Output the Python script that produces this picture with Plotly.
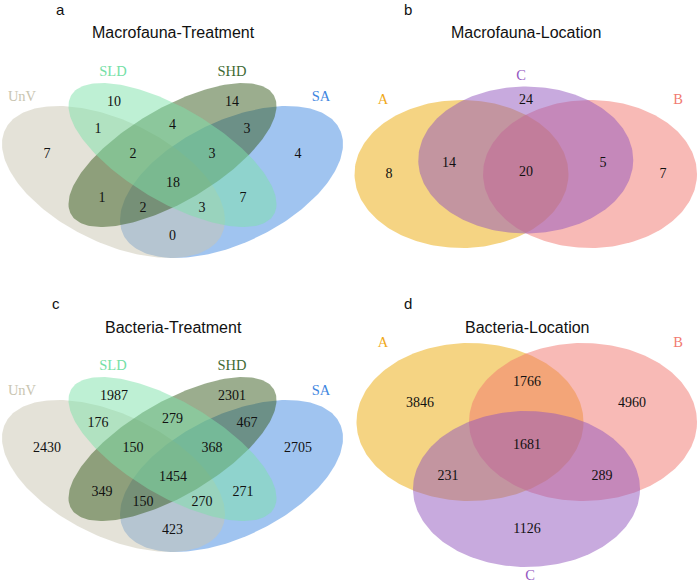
import numpy as np
import plotly.graph_objects as go

# ---------------- data ----------------
treatment_sets = ["UnV", "SLD", "SHD", "SA"]
location_sets = ["A", "B", "C"]

treatment_regions = ["UnV", "SLD", "SHD", "SA", "UnV&SLD", "SLD&SHD", "SHD&SA",
                     "UnV&SLD&SHD", "SLD&SHD&SA", "UnV&SLD&SHD&SA", "UnV&SHD",
                     "SLD&SA", "UnV&SHD&SA", "UnV&SLD&SA", "UnV&SA"]
macrofauna_treatment_counts = [7, 10, 14, 4, 1, 4, 3, 2, 3, 18, 1, 7, 2, 3, 0]
bacteria_treatment_counts = [2430, 1987, 2301, 2705, 176, 279, 467, 150, 368,
                             1454, 349, 271, 150, 270, 423]

macrofauna_location_regions = ["A", "C", "B", "A&C", "A&B&C", "B&C"]
macrofauna_location_counts = [8, 24, 7, 14, 20, 5]

bacteria_location_regions = ["A", "A&B", "B", "A&B&C", "A&C", "B&C", "C"]
bacteria_location_counts = [3846, 1766, 4960, 1681, 231, 289, 1126]

panel_titles = ["Macrofauna-Treatment", "Macrofauna-Location",
                "Bacteria-Treatment", "Bacteria-Location"]
panel_letters = ["a", "b", "c", "d"]

# ---------------- styles / layout geometry ----------------
set_colors = {
    "UnV": (201, 197, 177),
    "SLD": (125, 225, 169),
    "SHD": (55, 92, 30),
    "SA": (65, 137, 225),
    "A": (236, 169, 8),
    "B": (241, 117, 109),
    "C": (145, 85, 189),
}
label_colors = {
    "UnV": "#c9c5b1", "SLD": "#74e0a6", "SHD": "#3f6b34", "SA": "#3f86e0",
    "A": "#f0a91a", "B": "#f17a70", "C": "#9457c0",
}

# ellipse geometry (cx, cy, half-width, half-height, tilt k, mirrored)
quad_geom = {
    "UnV": (113.5, 182, 111.5, 76, 0.5, False),
    "SA": (231.5, 182, 111.5, 76, 0.5, True),
    "SLD": (172.5, 155, 104, 72, 0.68, False),
    "SHD": (172.5, 155, 104, 72, 0.68, True),
}
quad_order = ["SA", "UnV", "SHD", "SLD"]
quad_label_pos = {"UnV": (22, 97), "SLD": (113, 72), "SHD": (232, 72), "SA": (321, 97)}
quad_region_pos = {
    "UnV": (47, 154), "SLD": (114, 102), "SHD": (232, 102), "SA": (298, 154),
    "UnV&SLD": (98, 129), "SLD&SHD": (172.5, 125), "SHD&SA": (247, 129),
    "UnV&SLD&SHD": (133, 154), "SLD&SHD&SA": (212, 154), "UnV&SLD&SHD&SA": (173, 183),
    "UnV&SHD": (102, 198), "SLD&SA": (243, 198), "UnV&SHD&SA": (143, 208),
    "UnV&SLD&SA": (202, 208), "UnV&SA": (172.5, 236),
}

tri_b_geom = {
    "A": (461.5, 174, 107, 74, 0.0, False),
    "B": (590, 174, 107, 74, 0.0, False),
    "C": (525.75, 160, 107.5, 73.5, 0.0, False),
}
tri_b_label_pos = {"A": (383, 100), "B": (678, 100), "C": (521, 76)}
tri_b_region_pos = {"A": (389, 174), "C": (526, 100), "B": (663, 174),
                    "A&C": (449, 163), "A&B&C": (526, 172), "B&C": (603, 163)}

tri_d_geom = {
    "A": (470, 422, 113.5, 79, 0.0, False),
    "B": (583, 422, 114, 79, 0.0, False),
    "C": (526.5, 489, 113.5, 78, 0.0, False),
}
tri_d_label_pos = {"A": (383, 343), "B": (678, 343), "C": (530, 576)}
tri_d_region_pos = {"A": (420, 403), "A&B": (527, 382), "B": (632, 403),
                    "A&B&C": (527, 445), "A&C": (448, 476), "B&C": (602, 476),
                    "C": (527, 529)}

title_pos = [(173, 32), (526, 32), (173, 327), (527, 327)]
letter_pos = [(60, 9), (408, 9), (56, 303), (408, 303)]
lower_shift = 294

SERIF = "Liberation Serif, Times New Roman, serif"
SANS = "Liberation Sans, Arial, Helvetica, sans-serif"

W, H = 700, 584

fig = go.Figure()


def ellipse_xy(cx, cy, hx, hy, k, mirror, dy=0):
    t = np.linspace(0, 2 * np.pi, 241)
    d = np.arccos(k)
    s = -1 if mirror else 1
    x = cx + s * hx * np.cos(t)
    y = cy + dy + hy * np.cos(t + d)
    return x, y


def add_sets(geom, order, dy=0):
    for name in order:
        x, y = ellipse_xy(*geom[name], dy=dy)
        r, g, b = set_colors[name]
        fig.add_trace(go.Scatter(
            x=x, y=y, mode="lines", fill="toself",
            fillcolor=f"rgba({r},{g},{b},0.5)", line=dict(width=0),
            hoverinfo="skip", showlegend=False))


def add_counts(regions, counts, pos, dy=0):
    fig.add_trace(go.Scatter(
        x=[pos[r][0] for r in regions],
        y=[pos[r][1] + dy for r in regions],
        text=[str(c) for c in counts], mode="text",
        textposition="middle center",
        textfont=dict(family=SERIF, size=14, color="#111111"),
        hoverinfo="skip", showlegend=False))


def add_labels(names, pos, dy=0):
    fig.add_trace(go.Scatter(
        x=[pos[n][0] for n in names], y=[pos[n][1] + dy for n in names],
        text=names, mode="text", textposition="middle center",
        textfont=dict(family=SERIF, size=14.5, color=[label_colors[n] for n in names]),
        hoverinfo="skip", showlegend=False))


# panel a
add_sets(quad_geom, quad_order)
add_counts(treatment_regions, macrofauna_treatment_counts, quad_region_pos)
add_labels(treatment_sets, quad_label_pos)
# panel c
add_sets(quad_geom, quad_order, dy=lower_shift)
add_counts(treatment_regions, bacteria_treatment_counts, quad_region_pos, dy=lower_shift)
add_labels(treatment_sets, quad_label_pos, dy=lower_shift)
# panel b
add_sets(tri_b_geom, location_sets)
add_counts(macrofauna_location_regions, macrofauna_location_counts, tri_b_region_pos)
add_labels(location_sets, tri_b_label_pos)
# panel d
add_sets(tri_d_geom, location_sets)
add_counts(bacteria_location_regions, bacteria_location_counts, tri_d_region_pos)
add_labels(location_sets, tri_d_label_pos)

annotations = []
for (tx, ty), title in zip(title_pos, panel_titles):
    annotations.append(dict(x=tx, y=ty, xref="x", yref="y", text=title, showarrow=False,
                            font=dict(family=SANS, size=16, color="#111111"),
                            xanchor="center", yanchor="middle"))
for (lx, ly), letter in zip(letter_pos, panel_letters):
    annotations.append(dict(x=lx, y=ly, xref="x", yref="y", text=letter, showarrow=False,
                            font=dict(family=SANS, size=15, color="#111111"),
                            xanchor="center", yanchor="middle"))

fig.update_layout(
    width=W, height=H,
    margin=dict(l=0, r=0, t=0, b=0, pad=0),
    paper_bgcolor="white", plot_bgcolor="white",
    xaxis=dict(range=[0, W], visible=False, fixedrange=True),
    yaxis=dict(range=[H, 0], visible=False, fixedrange=True),
    annotations=annotations,
    showlegend=False,
)

# remove the default 8px page margin so the figure fills the window exactly
fig.write_html(
    "out.html",
    config={"displayModeBar": False},
    post_script="document.body.style.margin='0';document.body.style.overflow='hidden';",
)
